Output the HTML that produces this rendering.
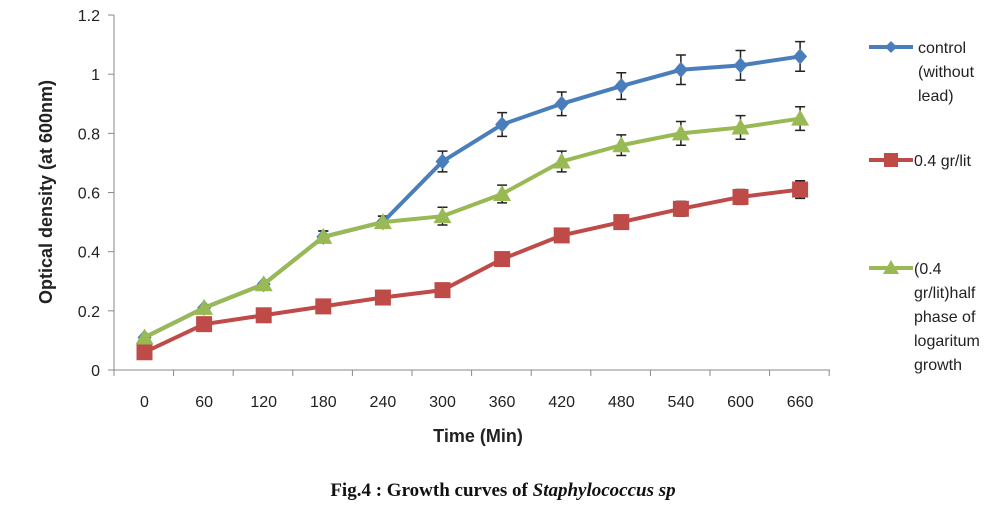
<!DOCTYPE html>
<html><head><meta charset="utf-8"><style>
body{margin:0;background:#fff;}
svg text{font-family:"Liberation Sans",sans-serif;}
</style></head><body>
<svg id="s" width="1006" height="505" xmlns="http://www.w3.org/2000/svg">
<rect width="1006" height="505" fill="#fff"/>
</svg>
<script>
const s=document.getElementById('s');let h='';
const X=i=>144.5+i*59.6, Y=v=>370-v*295.8;
h+='<line x1="114" y1="15" x2="114" y2="370" stroke="#888"/>';
h+='<line x1="114" y1="370" x2="830" y2="370" stroke="#888"/>';
for(let k=0;k<=6;k++){const y=Y(k*0.2);h+=`<line x1="108" y1="${y}" x2="114" y2="${y}" stroke="#888"/>`;
h+=`<text x="100" y="${y+6}" font-size="16" text-anchor="end" fill="#222">${+(k*0.2).toFixed(1)}</text>`;}
for(let i=0;i<=12;i++){const x=114+i*59.6;h+=`<line x1="${x}" y1="370" x2="${x}" y2="376" stroke="#888"/>`;}
for(let i=0;i<12;i++)h+=`<text x="${X(i)}" y="407" font-size="16" text-anchor="middle" fill="#222">${i*60}</text>`;
h+='<text x="478" y="442" font-size="18" font-weight="bold" text-anchor="middle" fill="#222">Time (Min)</text>';
h+='<text transform="translate(52,192) rotate(-90)" font-size="18" font-weight="bold" text-anchor="middle" fill="#222">Optical density (at 600nm)</text>';
const c=[0.11,0.21,0.29,0.45,0.5,0.705,0.83,0.90,0.96,1.015,1.03,1.06];
const r=[0.06,0.155,0.185,0.215,0.245,0.27,0.375,0.455,0.50,0.545,0.585,0.61];
const g=[0.11,0.21,0.29,0.45,0.50,0.52,0.595,0.705,0.76,0.80,0.82,0.85];
function eb(d,e){for(let i=3;i<12;i++){const x=X(i),a=Y(d[i]+e[i]),b=Y(d[i]-e[i]);
h+=`<path d="M${x} ${a}V${b}M${x-5} ${a}H${x+5}M${x-5} ${b}H${x+5}" stroke="#222" stroke-width="1.5"/>`;}}
const ec=[0,0,0,0.02,0.02,0.035,0.04,0.04,0.045,0.05,0.05,0.05];
const er=[0,0,0,0,0,0,0.02,0.02,0.02,0.025,0.025,0.03];
const eg=[0,0,0,0.02,0.02,0.03,0.03,0.035,0.035,0.04,0.04,0.04];
eb(c,ec);eb(r,er);eb(g,eg);
const pl=d=>d.map((v,i)=>`${X(i)},${Y(v)}`).join(' ');
h+=`<polyline points="${pl(c)}" fill="none" stroke="#4a7ebb" stroke-width="4"/>`;
c.forEach((v,i)=>{const x=X(i),y=Y(v);h+=`<polygon points="${x},${y-8} ${x+7},${y} ${x},${y+8} ${x-7},${y}" fill="#4a7ebb"/>`;});
h+=`<polyline points="${pl(r)}" fill="none" stroke="#be4b48" stroke-width="4"/>`;
r.forEach((v,i)=>{h+=`<rect x="${X(i)-8}" y="${Y(v)-8}" width="16" height="16" fill="#be4b48"/>`;});
h+=`<polyline points="${pl(g)}" fill="none" stroke="#98b954" stroke-width="4"/>`;
g.forEach((v,i)=>{const x=X(i),y=Y(v);h+=`<polygon points="${x},${y-9} ${x+9},${y+7} ${x-9},${y+7}" fill="#98b954"/>`;});
// legend
h+='<line x1="869" y1="47" x2="913" y2="47" stroke="#4a7ebb" stroke-width="4"/><polygon points="891,41 897,47 891,53 885,47" fill="#4a7ebb"/>';
h+='<line x1="869" y1="160" x2="913" y2="160" stroke="#be4b48" stroke-width="4"/><rect x="884" y="153" width="14" height="14" fill="#be4b48"/>';
h+='<line x1="869" y1="268" x2="913" y2="268" stroke="#98b954" stroke-width="4"/><polygon points="891,260 899,274 883,274" fill="#98b954"/>';
const lt=(x,y,arr)=>arr.forEach((t,i)=>h+=`<text x="${x}" y="${y+i*24}" font-size="16" fill="#222">${t}</text>`);
lt(918,53,['control','(without','lead)']);
lt(914,166,['0.4 gr/lit']);
lt(914,274,['(0.4','gr/lit)half','phase of','logaritum','growth']);
h+='<text x="503" y="496" font-size="19" font-weight="bold" text-anchor="middle" font-family="Liberation Serif" style="font-family:\'Liberation Serif\',serif" fill="#111">Fig.4 : Growth curves of <tspan font-style="italic">Staphylococcus sp</tspan></text>';
s.innerHTML+=h;
</script>
</body></html>
